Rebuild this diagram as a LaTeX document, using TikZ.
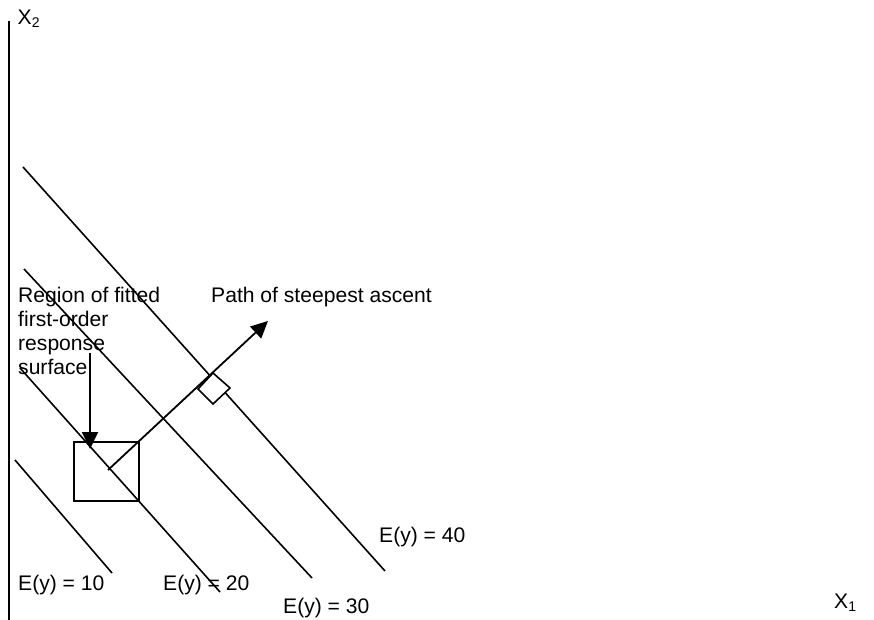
\documentclass[tikz,border=0pt]{standalone}
\usepackage{fontspec}
\setmainfont{Liberation Sans}
\usetikzlibrary{arrows.meta}
\newcommand{\subdig}[1]{\raisebox{-3pt}{\fontsize{14}{14}\selectfont #1}}
\begin{document}
\begin{tikzpicture}[x=1pt,y=-1pt,
  lbl/.style={anchor=base west,inner sep=0pt,font=\fontsize{21.1}{24}\selectfont},
  contour/.style={line width=1.6pt},
  arr/.style={line width=1.8pt,-{Triangle[length=17pt,width=16pt]}}]
\useasboundingbox (0,0) rectangle (874,620);
% axis
\draw[line width=1.8pt] (9,21) -- (9,620);
\node[lbl] (x2) at (17.5,25) {X\subdig{2}};
\node[lbl] (x1) at (834,608) {X\subdig{1}};
% contours
\draw[contour] (23,167) -- (385,571);
\draw[contour] (24,269) -- (312,578);
\draw[contour] (20,368) -- (220,592);
\draw[contour] (15,460) -- (112,573);
% right angle marker
\draw[contour,fill=white] (213,373) -- (230,388) -- (213,404) -- (198,389) -- cycle;
% region box
\node[draw,line width=2pt,minimum width=65pt,minimum height=59pt,inner sep=0pt] (box) at (106.5,471.5) {};
% path of steepest ascent
\coordinate (ps) at (108,470);
\coordinate (pe) at (268,321);
\draw[arr] (ps) -- (pe);
% region arrow
\coordinate (rs) at (90,353);
\coordinate (re) at (90,449);
\draw[arr] (rs) -- (re);
% texts
\node[lbl] (r1) at (18,302) {Region of fitted};
\node[lbl] (r2) at (18,326) {first-order};
\node[lbl] (r3) at (18,350) {response};
\node[lbl] (r4) at (18,374) {surface};
\node[lbl] (p) at (211,302) {Path of steepest ascent};
\node[lbl] (e40) at (379,542) {E(y) = 40};
\node[lbl] (e10) at (18,590) {E(y) = 10};
\node[lbl] (e20) at (163,590) {E(y) = 20};
\node[lbl] (e30) at (283,613) {E(y) = 30};
\end{tikzpicture}
\end{document}
